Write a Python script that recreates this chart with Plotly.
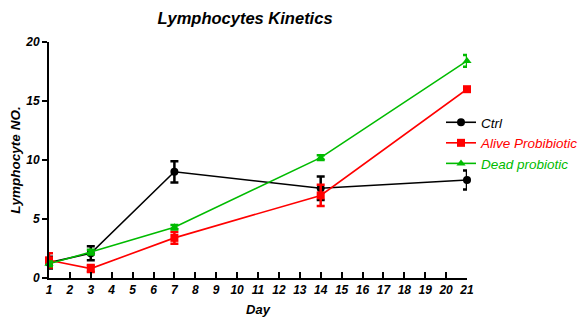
import plotly.graph_objects as go

days = [1, 3, 7, 14, 21]
ctrl = [1.3, 2.1, 9.0, 7.6, 8.3]
ctrl_err = [0.5, 0.6, 0.9, 1.0, 0.8]
alive = [1.5, 0.8, 3.4, 7.0, 16.0]
alive_err = [0.6, 0.3, 0.5, 0.9, 0.0]
dead = [1.2, 2.2, 4.3, 10.2, 18.4]
dead_err = [0.2, 0.2, 0.2, 0.2, 0.5]

x_ticks = list(range(1, 22))
y_ticks = [0, 5, 10, 15, 20]

series = [
    ("Ctrl", ctrl, ctrl_err, "#000000", "circle"),
    ("Alive Probibiotic", alive, alive_err, "#ff0000", "square"),
    ("Dead probiotic", dead, dead_err, "#00bb00", "triangle-up"),
]

fig = go.Figure()
for name, vals, errs, color, sym in series:
    fig.add_trace(go.Scatter(
        x=days, y=vals,
        mode="lines+markers",
        name=f"<i><span style='color:{color}'>{name}</span></i>",
        line=dict(color=color, width=1.6),
        marker=dict(symbol=sym, size=8, color=color),
        error_y=dict(type="data", array=errs, visible=True, color=color,
                     thickness=2.5, width=4),
        cliponaxis=False,
    ))

fig.update_layout(
    width=582, height=317,
    margin=dict(l=49, r=115, t=42, b=39, autoexpand=False),
    paper_bgcolor="white", plot_bgcolor="white",
    font=dict(family="Liberation Sans, Arial", color="black"),
    title=dict(text="<b><i>Lymphocytes Kinetics</i></b>", x=245/582, xanchor="center",
               y=1 - 18/317, yanchor="middle", font=dict(size=16.5)),
    showlegend=True,
    legend=dict(x=441/582, xanchor="left", xref="container",
                y=1 - 107/317, yanchor="top", yref="container",
                font=dict(size=13.5), bgcolor="rgba(0,0,0,0)",
                itemwidth=30, tracegroupgap=0),
    xaxis=dict(range=[1, 21], tickvals=x_ticks, ticktext=[f"<b><i>{t}</i></b>" for t in x_ticks],
               showgrid=False, zeroline=False, showline=True, linecolor="black", linewidth=2,
               ticks="inside", ticklen=6, tickwidth=1.5, tickcolor="black",
               tickfont=dict(size=12),
               title=dict(text="<b><i>Day</i></b>", font=dict(size=13), standoff=12)),
    yaxis=dict(range=[0, 20], tickvals=y_ticks, ticktext=[f"<b><i>{t}</i></b>" for t in y_ticks],
               showgrid=False, zeroline=False, showline=True, linecolor="black", linewidth=2,
               ticks="outside", ticklen=5, tickwidth=1.5, tickcolor="black",
               tickfont=dict(size=12),
               title=dict(text="<b><i>Lymphocyte NO.</i></b>", font=dict(size=13.5), standoff=2)),
)

fig.write_html("out.html", config={"displayModeBar": False},
               post_script="document.body.style.margin='0';")
